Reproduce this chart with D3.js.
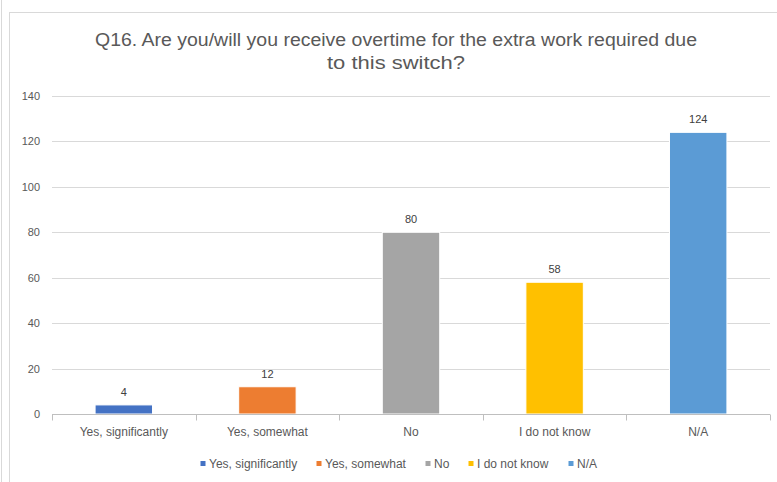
<!DOCTYPE html>
<html>
<head>
<meta charset="utf-8">
<script src="https://cdn.jsdelivr.net/npm/d3@7"></script>
<style>
  html, body { margin: 0; padding: 0; background: #fff; }
  svg { display: block; }
  text { font-family: "Liberation Sans", Arial, sans-serif; }
</style>
</head>
<body>
<svg id="chart" width="777" height="482"></svg>
<script>
const categories = ["Yes, significantly", "Yes, somewhat", "No", "I do not know", "N/A"];
const values = [4, 12, 80, 58, 124];
const colors = ["#4472C4", "#ED7D31", "#A5A5A5", "#FFC000", "#5B9BD5"];
const yTicks = [0, 20, 40, 60, 80, 100, 120, 140];
const titleLines = ["Q16. Are you/will you receive overtime for the extra work required due", "to this switch?"];

const svg = d3.select("#chart");
const W = 777, H = 482;

// outer frame lines
svg.append("line").attr("x1", 1.5).attr("x2", 1.5).attr("y1", 0).attr("y2", H)
  .attr("stroke", "#d9d9d9").attr("stroke-width", 1);
svg.append("rect").attr("x", 9.5).attr("y", 12.5).attr("width", W + 10).attr("height", H + 10)
  .attr("fill", "#fff").attr("stroke", "#d9d9d9").attr("stroke-width", 1);

// title
const title = svg.append("g");
title.append("text").attr("x", 396).attr("y", 46).attr("text-anchor", "middle")
  .attr("font-size", 18).attr("fill", "#595959")
  .attr("textLength", 602).attr("lengthAdjust", "spacingAndGlyphs").text(titleLines[0]);
title.append("text").attr("x", 396).attr("y", 69).attr("text-anchor", "middle")
  .attr("font-size", 18).attr("fill", "#595959")
  .attr("textLength", 138).attr("lengthAdjust", "spacingAndGlyphs").text(titleLines[1]);

const x = d3.scaleBand().domain(categories).range([52, 770]).paddingInner(0.6).paddingOuter(0.3);
const xb = d3.scaleBand().domain(categories).range([52, 770]).padding(0);
const y = d3.scaleLinear().domain([0, 140]).range([414, 96]);

// gridlines
svg.append("g").selectAll("line").data(yTicks.filter(d => d > 0)).join("line")
  .attr("x1", 52).attr("x2", 770)
  .attr("y1", d => Math.round(y(d)) + 0.5).attr("y2", d => Math.round(y(d)) + 0.5)
  .attr("stroke", "#d9d9d9").attr("stroke-width", 1);

// y axis labels
const yAxis = d3.axisLeft(y).tickValues(yTicks).tickSize(0).tickPadding(12);
const yg = svg.append("g").attr("transform", "translate(52,0)").call(yAxis);
yg.select(".domain").remove();
yg.selectAll("text").attr("font-size", 11).attr("fill", "#595959")
  .attr("font-family", "Liberation Sans, Arial, sans-serif");

// bars
svg.append("g").selectAll("rect").data(values).join("rect")
  .attr("x", (d, i) => x(categories[i]))
  .attr("width", x.bandwidth())
  .attr("y", d => y(d))
  .attr("height", d => y(0) - y(d))
  .attr("fill", (d, i) => colors[i])
  .attr("stroke", "#fff").attr("stroke-width", 1);

// data labels
svg.append("g").selectAll("text").data(values).join("text")
  .attr("x", (d, i) => x(categories[i]) + x.bandwidth() / 2)
  .attr("y", d => y(d) - 9)
  .attr("text-anchor", "middle").attr("font-size", 11).attr("fill", "#404040")
  .text(d => d);

// x axis
const xAxis = d3.axisBottom(xb).tickSize(0).tickPadding(13);
const xg = svg.append("g").attr("transform", "translate(0,414.5)").call(xAxis);
xg.select(".domain").attr("stroke", "#bfbfbf").attr("d", "M52,0H770");
xg.selectAll("text").attr("font-size", 12).attr("fill", "#595959")
  .attr("font-family", "Liberation Sans, Arial, sans-serif");
// category boundary ticks
const bounds = categories.map(c => xb(c)).concat([770]);
xg.append("g").selectAll("line").data(bounds).join("line")
  .attr("x1", d => Math.round(d) + 0.5).attr("x2", d => Math.round(d) + 0.5)
  .attr("y1", 0).attr("y2", 6).attr("stroke", "#bfbfbf");

// legend
const legendX = [203, 319, 428, 471, 571];
const lg = svg.append("g").attr("transform", "translate(0,464)");
const items = lg.selectAll("g").data(categories).join("g")
  .attr("transform", (d, i) => `translate(${legendX[i]},0)`);
items.append("rect").attr("x", -2.5).attr("y", -3).attr("width", 5).attr("height", 5)
  .attr("fill", (d, i) => colors[i]);
items.append("text").attr("x", 6).attr("y", 4).attr("font-size", 12).attr("fill", "#595959")
  .text(d => d);
</script>
</body>
</html>
